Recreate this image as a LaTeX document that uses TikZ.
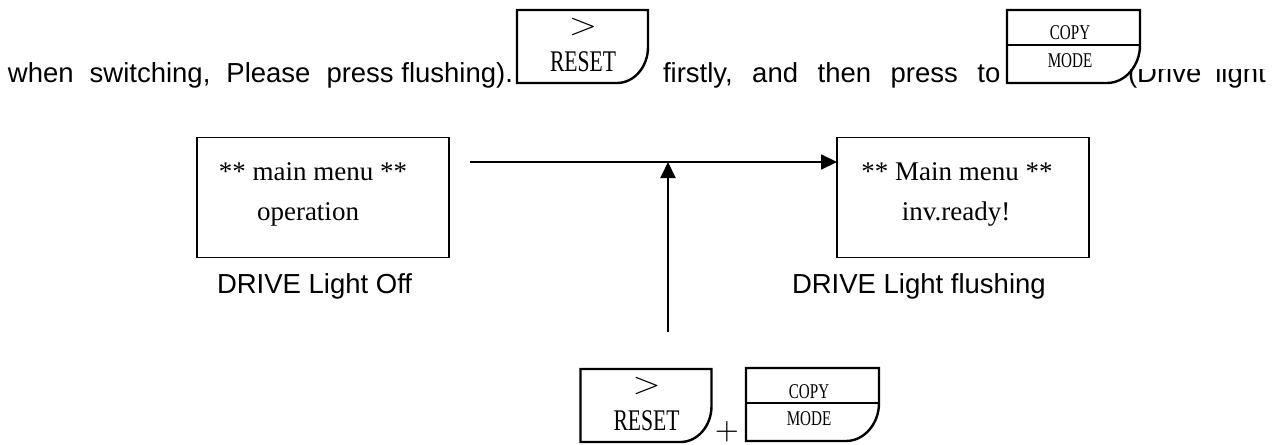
\documentclass[tikz,border=0pt]{standalone}
\usepackage{graphicx}
\usepackage{fontspec}
\setmainfont{Liberation Sans}
\newfontfamily\serifbox{Liberation Serif}
\newfontfamily\keyfont[FakeStretch=0.72]{Liberation Serif}
\usetikzlibrary{arrows.meta,calc}
\newcommand\drawresetkey[1]{%
  \draw[keyline] (#1.north east) -- (#1.north west) -- (#1.south west) -- ($(#1.south east)+(-31,0)$)
    .. controls ($(#1.south east)+(-14,0)$) and ($(#1.south east)+(0,-16)$) .. ($(#1.south east)+(0,-36)$) -- cycle;
  \node[anchor=center] (#1gt) at ($(#1.north west)+(66,17)$) {\scalebox{3.6}[3]{$>$}};
  \node[keybig] (#1txt) at ($(#1.north west)+(66,61)$) {RESET};
}
\newcommand\drawmodekey[1]{%
  \draw[keyline] (#1.north east) -- (#1.north west) -- (#1.south west) -- ($(#1.south east)+(-33,0)$)
    .. controls ($(#1.south east)+(-15,0)$) and ($(#1.south east)+(0,-17)$) .. ($(#1.south east)+(0,-38)$) -- cycle;
  \draw[keyline] ($(#1.north west)+(0,35)$) -- ($(#1.north east)+(0,35)$);
  \node[keysmall] (#1copy) at ($(#1.north west)+(63,30)$) {COPY};
  \node[keysmall] (#1mode) at ($(#1.north west)+(63,57)$) {MODE};
}
\begin{document}
\begin{tikzpicture}[x=1pt,y=-1pt,
  every node/.style={inner sep=0pt, outer sep=0pt},
  body/.style={font=\fontsize{27.5}{33}\selectfont, anchor=base west},
  menubox/.style={draw, line width=1.8pt, minimum width=252pt, minimum height=120pt},
  menutext/.style={font=\serifbox\fontsize{27}{32}\selectfont, anchor=base},
  resetshape/.style={minimum width=131pt, minimum height=73pt},
  modeshape/.style={minimum width=133pt, minimum height=73pt},
  keyline/.style={line width=2.4pt, line join=miter},
  keybig/.style={font=\keyfont\fontsize{30}{36}\selectfont, anchor=base},
  keysmall/.style={font=\keyfont\fontsize{21}{25}\selectfont, anchor=base},
  conn/.style={line width=2pt, -{Triangle[length=16pt,width=15pt]}}
]
\useasboundingbox (0,0) rectangle (1281,444);

% top line of text
\node[body] (t1) at (8,82) {when\hspace{16pt}switching,\hspace{16pt}Please\hspace{16pt}press flushing).};
\node[body] (t2) at (663,82) {firstly,\hspace{19.5pt}and\hspace{19.5pt}then\hspace{19.5pt}press\hspace{19.5pt}to};
\begin{scope}
  \clip (1100,69) rectangle (1281,444);
  \node[body] (t3) at (1128,82) {(Drive\hspace{14pt}light};
\end{scope}

% inline keys
\node[resetshape] (kt1) at (582.5,46.5) {};
\drawresetkey{kt1}
\node[modeshape] (kt2) at (1073.5,46.5) {};
\drawmodekey{kt2}

% menu boxes
\node[menubox] (lbox) at (323,197.5) {};
\node[menutext] (l1) at (313,180) {** main menu **};
\node[menutext] (l2) at (308,220) {operation};
\node[menubox] (rbox) at (963,197.5) {};
\node[menutext] (r1) at (957,180) {** Main menu **};
\node[menutext] (r2) at (956,220) {inv.ready!};

\node[body] (lab1) at (217,293) {DRIVE Light Off};
\node[body] (lab2) at (792,293) {DRIVE Light flushing};

% connectors
\coordinate (hstart) at (470,162);
\draw[conn] (hstart) -- (rbox.west |- hstart);
\coordinate (vstart) at (668,332);
\coordinate (vend) at (668,162);
\draw[conn] (vstart) -- (vend);

% bottom keys
\node[resetshape] (kb1) at (646,405.5) {};
\drawresetkey{kb1}
\node (plus) at (727,432) {\scalebox{3.1}{$+$}};
\node[modeshape] (kb2) at (812.5,404.5) {};
\drawmodekey{kb2}
\end{tikzpicture}
\end{document}
